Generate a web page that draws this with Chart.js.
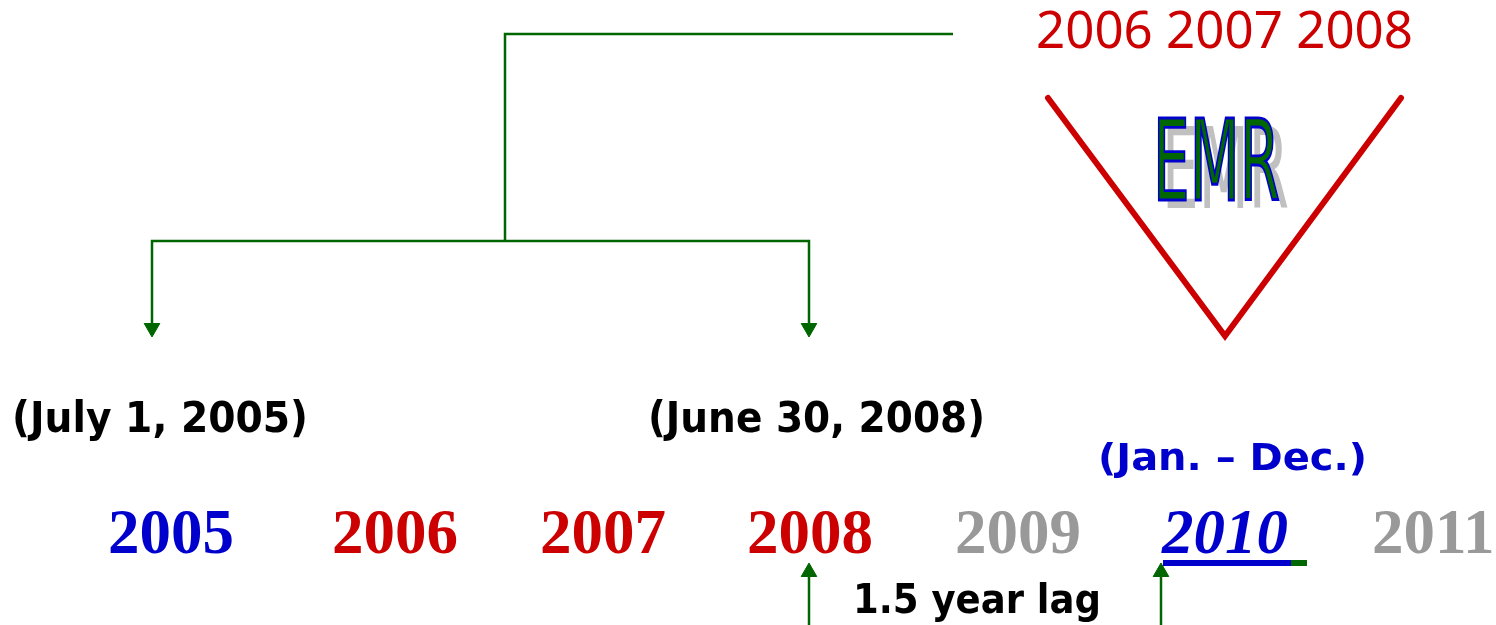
<!DOCTYPE html>
<html>
<head>
<meta charset="utf-8">
<script src="https://cdn.jsdelivr.net/npm/chart.js@4"></script>
<style>
  html, body { margin: 0; padding: 0; background: #fff; }
  #wrap { width: 1496px; height: 625px; }
</style>
</head>
<body>
<div id="wrap"><canvas id="timeline" width="1496" height="625"></canvas></div>
<script>
// Timeline years along the bottom
const years = ['2005', '2006', '2007', '2008', '2009', '2010', '2011'];
const yearLeft = [108, 332, 540, 747, 955, 1162, 1372];
const yearColors = ['#0000cc', '#cc0000', '#cc0000', '#cc0000', '#999999', '#0000cc', '#999999'];

// Labels
const dateLabels = ['(July 1, 2005)', '(June 30, 2008)'];
const emrYears = '2006 2007 2008';
const periodLabel = '(Jan. \u2013 Dec.)';
const lagLabel = '1.5 year lag';

// Connector lines (axis units = pixels of the slide)
const topBracket = [{ x: 953, y: 34 }, { x: 505, y: 34 }, { x: 505, y: 241 }];
const splitBracket = [{ x: 152, y: 326 }, { x: 152, y: 241 }, { x: 809, y: 241 }, { x: 809, y: 326 }];
const lagLeft = [{ x: 809, y: 625 }, { x: 809, y: 575 }];
const lagRight = [{ x: 1161, y: 625 }, { x: 1161, y: 575 }];
const arrowHeads = [
  { x: 152, y: 328, rot: 180 },
  { x: 809, y: 328, rot: 180 },
  { x: 809, y: 572, rot: 0 },
  { x: 1161, y: 572, rot: 0 }
];
const emrV = [{ x: 1048, y: 98 }, { x: 1225, y: 336 }, { x: 1401, y: 98 }];
const underlineBlue = [{ x: 1163, y: 563 }, { x: 1291, y: 563 }];
const underlineGreen = [{ x: 1291, y: 563 }, { x: 1307, y: 563 }];

const GREEN = '#006600';

function lineSet(data, color, width, cap) {
  return {
    type: 'line', data: data, borderColor: color, borderWidth: width,
    pointRadius: 0, fill: false, tension: 0, borderCapStyle: cap || 'butt',
    borderJoinStyle: 'miter'
  };
}

// draws text with its left edge / baseline at scale values, squeezed to a width if given
function drawText(chart, str, x, y, font, color, width, opts) {
  const ctx = chart.ctx;
  const px = chart.scales.x.getPixelForValue(x);
  const py = chart.scales.y.getPixelForValue(y);
  ctx.save();
  ctx.font = font;
  ctx.textAlign = 'left';
  ctx.textBaseline = 'alphabetic';
  const w = ctx.measureText(str).width;
  const sx = width ? width / w : 1;
  ctx.translate(px, py);
  ctx.scale(sx, 1);
  if (opts && opts.shadow) {
    ctx.fillStyle = opts.shadow;
    ctx.fillText(str, opts.dx / sx, opts.dy);
  }
  ctx.fillStyle = color;
  ctx.fillText(str, 0, 0);
  if (opts && opts.stroke) {
    ctx.lineWidth = opts.strokeWidth / sx;
    ctx.strokeStyle = opts.stroke;
    ctx.strokeText(str, 0, 0);
  }
  ctx.restore();
}

const textPlugin = {
  id: 'slideText',
  afterDatasetsDraw(chart) {
    drawText(chart, emrYears, 1036, 48, '51px "Noto Sans"', '#cc0000', 377);
    drawText(chart, 'EMR', 1153, 200, '112px "DejaVu Sans"', GREEN, 127,
      { shadow: '#c0c0c0', dx: 9, dy: 8, stroke: '#0000cc', strokeWidth: 1.5 });
    drawText(chart, dateLabels[0], 12, 432, 'bold 43px "DejaVu Sans"', '#000', 296);
    drawText(chart, dateLabels[1], 648, 432, 'bold 43px "DejaVu Sans"', '#000', 337);
    drawText(chart, periodLabel, 1098, 470, 'bold 38px "DejaVu Sans"', '#0000cc', 269);
    drawText(chart, lagLabel, 853, 613, 'bold 40px "DejaVu Sans"', '#000', 248);
    years.forEach((yr, i) => {
      const italic = yr === '2010' ? 'italic ' : '';
      drawText(chart, yr, yearLeft[i], 553, italic + 'bold 63px "Liberation Serif"', yearColors[i]);
    });
  }
};

new Chart(document.getElementById('timeline'), {
  type: 'scatter',
  data: {
    datasets: [
      lineSet(topBracket, GREEN, 2.5),
      lineSet(splitBracket, GREEN, 2.5),
      lineSet(lagLeft, GREEN, 2.5),
      lineSet(lagRight, GREEN, 2.5),
      lineSet(emrV, '#cc0000', 6, 'round'),
      lineSet(underlineBlue, '#0000cc', 6),
      lineSet(underlineGreen, GREEN, 6),
      {
        type: 'scatter',
        data: arrowHeads,
        pointStyle: 'triangle',
        pointRadius: 9,
        pointRotation: arrowHeads.map(a => a.rot),
        backgroundColor: GREEN,
        borderColor: GREEN,
        borderWidth: 1
      }
    ]
  },
  options: {
    responsive: false,
    animation: false,
    events: [],
    layout: { padding: 0, autoPadding: false },
    plugins: { legend: { display: false }, tooltip: { enabled: false } },
    scales: {
      x: { type: 'linear', min: 0, max: 1496, display: false },
      y: { type: 'linear', min: 0, max: 625, reverse: true, display: false }
    }
  },
  plugins: [textPlugin]
});
</script>
</body>
</html>
